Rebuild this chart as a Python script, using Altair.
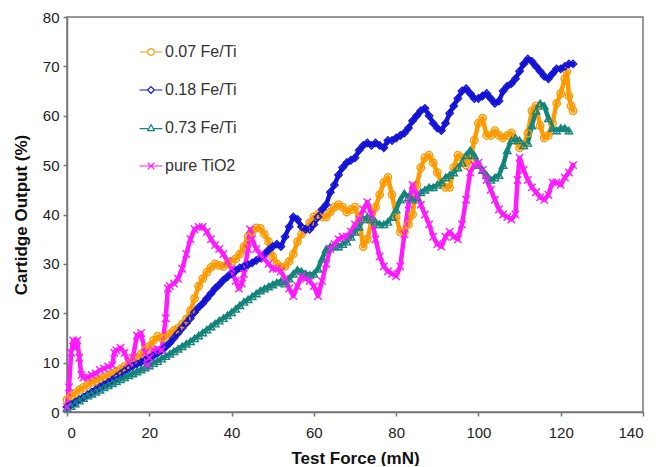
import altair as alt
import pandas as pd

names = ["0.07 Fe/Ti", "0.18 Fe/Ti", "0.73 Fe/Ti", "pure TiO2"]
colors = ["#FF9A00", "#1414D6", "#14857C", "#FF1AFF"]
shapes = ["circle", "diamond", "triangle-up", "M-1,-1L1,1M-1,1L1,-1"]
legend_shapes = [
    "M-3.4,0L-1,0M1,0L3.4,0M1,0A1,1,0,1,1,-1,0A1,1,0,1,1,1,0",
    "M-3.4,0L-1,0M1,0L3.4,0M0,-1L1,0L0,1L-1,0Z",
    "M-3.4,0.2L-0.9,0.2M0.9,0.2L3.4,0.2M0,-1L1,0.8L-1,0.8Z",
    "M-3.4,0L3.4,0M-1,-1L1,1M-1,1L1,-1",
]

x_ticks = [0, 20, 40, 60, 80, 100, 120, 140]
y_ticks = [0, 10, 20, 30, 40, 50, 60, 70, 80]

# 0.07 Fe/Ti
orange_x = list(range(0, 121)) + [121, 121.5, 122, 122.5, 123]
orange_y = [2.5, 3.2, 3.8, 4.5, 5.0, 5.5, 6.0, 6.3, 6.7, 7.0,
            7.4, 7.8, 8.2, 8.7, 9.2, 9.7, 10.3, 11.0, 11.7, 12.5,
            13.3, 14.5, 15.3, 15.0, 15.0, 15.8, 16.5, 17.0, 17.8, 18.8,
            20.5, 23.0, 25.5, 27.0, 28.3, 29.3, 30.0, 29.7, 29.5, 30.0,
            30.5, 31.0, 32.0, 33.5, 35.5, 36.5, 37.3, 37.2, 36.0, 34.5,
            31.5, 30.0, 29.3, 29.5, 30.5, 32.0, 34.5, 36.0, 37.0, 38.3,
            39.5, 40.0, 39.5, 39.5, 40.5, 41.5, 42.0, 41.5, 40.5, 41.0,
            41.5, 39.0, 33.5, 35.0, 38.5, 41.5, 44.0, 46.5, 47.5, 44.0,
            39.5, 36.5, 36.5, 38.0, 40.0, 46.0, 49.5, 51.5, 52.0, 50.5,
            48.5, 46.5, 45.5, 45.5, 49.5, 52.0, 51.5, 50.0, 51.0, 55.0,
            58.5, 59.5, 56.0, 56.0, 57.0, 56.0, 55.5, 56.0, 56.5, 55.0,
            53.5, 54.0, 56.5, 61.0, 62.0, 58.0, 55.5, 56.0, 58.5, 62.5,
            64.5, 67.5, 69.0, 64.0, 62.0, 61.0]

# 0.18 Fe/Ti
blue_x = list(range(0, 124))
blue_y = [1.0, 1.5, 2.0, 2.5, 3.0, 3.5, 4.0, 4.5, 5.0, 5.5,
          6.0, 6.5, 7.1, 7.7, 8.3, 8.8, 9.3, 9.7, 10.1, 10.5,
          10.9, 11.4, 11.9, 12.5, 13.2, 14.0, 15.0, 16.0, 17.0, 18.0,
          19.0, 20.2, 21.2, 22.0, 23.0, 24.0, 25.0, 25.8, 26.7, 27.4,
          28.0, 28.6, 29.2, 29.5, 29.8, 30.2, 30.7, 31.3, 32.0, 32.8,
          33.5, 34.0, 33.5, 35.5, 37.5, 39.5, 39.0, 37.5, 37.0, 37.0,
          38.0, 39.5, 41.0, 42.0, 44.5, 46.0, 48.0, 49.5, 50.5, 51.0,
          51.5, 53.0, 54.0, 54.5, 54.0, 54.5, 54.0, 53.5, 55.0, 55.0,
          55.5, 56.0, 56.5, 57.5, 59.0, 60.0, 61.0, 61.5, 60.0, 58.5,
          57.5, 57.0, 58.5, 60.5, 62.0, 63.5, 65.0, 65.5, 64.5, 63.5,
          63.5, 64.0, 64.5, 63.5, 62.5, 63.0, 65.0, 66.0, 66.5, 67.5,
          69.0, 70.5, 71.5, 71.0, 70.0, 69.0, 68.0, 67.5, 68.5, 69.5,
          69.5, 70.0, 70.5, 70.5]

# 0.73 Fe/Ti
teal_x = list(range(0, 123))
teal_y = [0.8, 1.2, 1.7, 2.3, 2.8, 3.3, 3.7, 4.1, 4.5, 5.0,
          5.4, 5.8, 6.2, 6.6, 7.0, 7.4, 7.8, 8.2, 8.6, 9.0,
          9.4, 9.9, 10.3, 10.8, 11.3, 11.8, 12.3, 12.8, 13.3, 13.8,
          14.3, 14.9, 15.5, 16.1, 16.7, 17.3, 17.9, 18.5, 19.0, 19.6,
          20.2, 20.9, 21.6, 22.3, 22.8, 23.4, 24.0, 24.6, 25.0, 25.4,
          25.8, 26.2, 26.5, 26.0, 27.0, 28.0, 28.8, 28.5, 28.0, 27.8,
          28.0, 29.0, 31.0, 33.0, 33.5, 33.5, 33.5, 34.0, 34.5, 35.5,
          36.5, 37.5, 39.0, 39.5, 39.0, 38.5, 38.0, 38.0, 38.5, 39.5,
          41.0, 43.0, 44.3, 43.5, 43.0, 43.5, 44.5, 45.0, 45.5, 45.5,
          46.0, 46.5, 47.5, 48.0, 48.5, 49.5, 50.5, 52.0, 53.0, 52.0,
          50.0, 49.0, 48.0, 47.0, 47.5, 48.0, 50.0, 53.0, 55.0, 55.5,
          55.0, 54.0, 54.5, 58.0, 61.0, 62.5, 62.0, 59.5, 57.5, 57.0,
          57.5, 57.5, 57.0]

# pure TiO2
mag_x = [0, 0.5, 1, 1.5, 2, 2.5, 3, 3.5, 4, 5, 6, 7, 8, 9, 10, 11, 11.5, 12, 13, 14,
         15, 16, 17, 18, 19, 19.5, 20, 21, 22, 23, 24, 24.5, 25, 26, 27, 28, 29, 30,
         31, 32, 33, 34, 35, 36, 37, 38, 39, 40, 41, 41.8, 42.5, 43, 44, 44.5, 45,
         46, 47, 48, 49, 50, 51, 52, 53, 54, 55, 56, 57, 58, 59, 60, 61, 62, 63, 64,
         65, 66, 67, 68, 69, 70, 71, 72, 73, 74, 75, 76, 77, 78, 79, 80, 81, 82, 83,
         84, 85, 86, 87, 88, 89, 90, 91, 92, 93, 94, 95, 96, 97, 98, 99, 100, 101,
         102, 103, 104, 105, 106, 107, 108, 109, 109.5, 110, 111, 112, 113, 114,
         115, 116, 117, 118, 119, 120, 121, 122, 123]
mag_y = [1.0, 5.0, 12.0, 14.5, 13.0, 14.5, 11.0, 7.5, 7.0, 7.0, 7.5, 7.8, 8.5, 8.8,
         9.2, 9.5, 12.0, 12.5, 13.0, 12.0, 10.0, 11.0, 15.5, 16.0, 12.0, 9.5, 11.0,
         12.5, 12.8, 12.5, 19.0, 25.0, 25.5, 26.0, 27.0, 29.0, 32.0, 35.0, 37.0,
         37.5, 37.5, 36.5, 35.0, 33.8, 33.0, 32.0, 30.5, 29.0, 26.5, 25.0, 26.0,
         28.0, 33.0, 37.0, 35.0, 33.0, 32.0, 31.0, 30.0, 29.0, 29.0, 28.5, 27.0,
         25.0, 23.5, 25.5, 27.5, 27.0, 26.5, 25.5, 23.5, 26.5, 30.0, 33.0, 34.0,
         35.0, 35.5, 35.5, 36.5, 38.0, 39.0, 41.0, 42.5, 40.0, 35.0, 31.5, 29.5,
         28.5, 28.0, 27.5, 29.5, 36.0, 42.0, 46.0, 44.0, 42.0, 40.0, 38.0, 35.5,
         34.0, 33.5, 35.5, 36.5, 35.5, 35.0, 38.0, 43.0, 48.5, 50.0, 50.5, 49.0,
         47.0, 45.0, 43.0, 41.0, 40.0, 39.5, 39.0, 40.0, 47.0, 51.5, 49.0, 47.0,
         45.5, 44.5, 43.5, 43.0, 44.0, 46.5, 46.5, 46.0, 47.5, 48.5, 50.0]

series = [(names[0], orange_x, orange_y), (names[1], blue_x, blue_y),
          (names[2], teal_x, teal_y), (names[3], mag_x, mag_y)]
rows = []
for name, xs, ys in series:
    for j, (xv, yv) in enumerate(zip(xs, ys)):
        rows.append({"series": name, "idx": j, "force": xv, "output": yv})
df = pd.DataFrame(rows)

font = "Liberation Sans"
x_enc = alt.X("force:Q", scale=alt.Scale(domain=[0, 140], nice=False),
              axis=alt.Axis(values=x_ticks, title="Test Force (mN)"))
y_enc = alt.Y("output:Q", scale=alt.Scale(domain=[0, 80], nice=False),
              axis=alt.Axis(values=y_ticks, title="Cartidge Output (%)"))

leg = alt.Legend(title=None, orient="none", legendX=76, legendY=27,
                 direction="vertical", labelFont=font, labelFontSize=16,
                 labelColor="#333333", symbolSize=45, symbolStrokeWidth=1.2,
                 symbolOpacity=1, symbolFillColor="transparent",
                 rowPadding=22, labelOffset=6, padding=0)
color_scale = alt.Scale(domain=names, range=colors)
shape_scale = alt.Scale(domain=names, range=shapes)
legend_shape_scale = alt.Scale(domain=names, range=legend_shapes)

lines = alt.Chart(df).mark_line(strokeWidth=4.5, strokeJoin="round", strokeCap="round").encode(
    x=x_enc, y=y_enc,
    color=alt.Color("series:N", scale=color_scale, legend=None),
    detail="series:N", order="idx:Q")
points = alt.Chart(df).mark_point(filled=False, size=55, strokeWidth=1.4, opacity=1).encode(
    x=x_enc, y=y_enc,
    color=alt.Color("series:N", scale=color_scale, legend=None),
    shape=alt.Shape("series:N", scale=shape_scale, legend=None))
legend_layer = alt.Chart(df).mark_point(filled=False, size=45, opacity=0).encode(
    x=x_enc, y=y_enc,
    color=alt.Color("series:N", scale=color_scale, legend=leg),
    shape=alt.Shape("series:N", scale=legend_shape_scale, legend=leg))

chart = alt.layer(lines, points, legend_layer).resolve_scale(
    shape="independent", color="independent"
).properties(
    width=576, height=395,
    padding={"left": 4, "top": 2, "right": 5, "bottom": 0}
).configure_view(
    stroke="#777777", strokeWidth=1.5
).configure_axis(
    grid=False, domainColor="#777777", domainWidth=1.5,
    tickColor="#777777", tickSize=4, tickWidth=1.5,
    labelFont=font, labelFontSize=15, labelColor="#222222", labelPadding=4,
    titleFont=font, titleFontSize=17, titleFontWeight="bold", titleColor="#111111"
).configure_axisX(
    labelPadding=9, titlePadding=10
).configure_axisY(
    titlePadding=12
)

chart.save("out.html", embed_options={"renderer": "svg", "actions": False})
